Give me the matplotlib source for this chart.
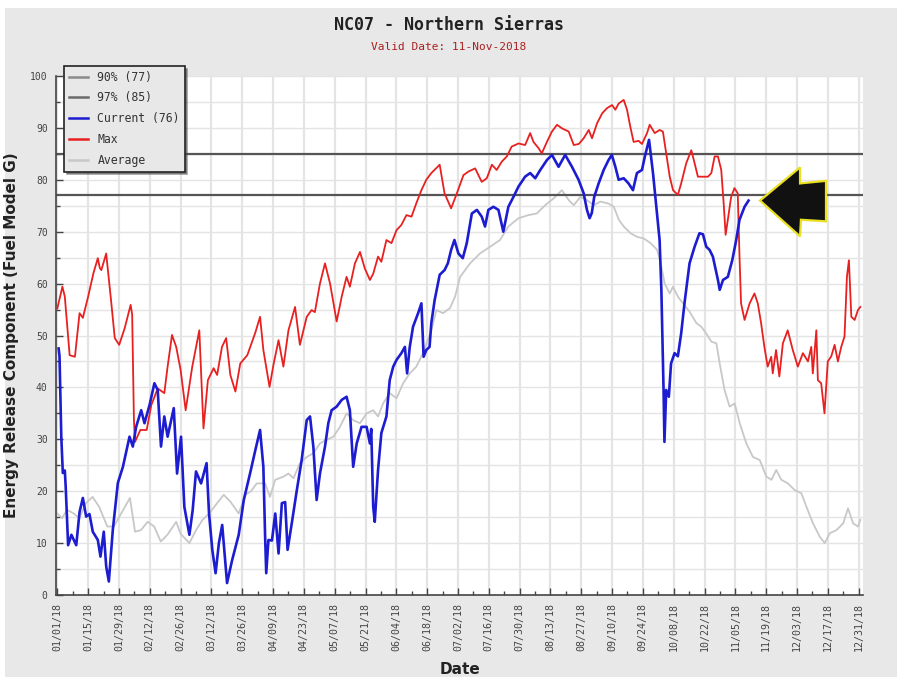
import numpy as np
import matplotlib
matplotlib.use("Agg")
import matplotlib.pyplot as plt
from matplotlib.patches import Rectangle, Polygon
from matplotlib.ticker import MultipleLocator

# day of year (0 = 01/01/18) and ERC values
cur_days = [0.6, 1.0, 1.8, 2.5, 3.4, 3.8, 4.9, 6.4, 8.6, 10.1, 11.6, 13.1, 14.6, 16.1, 18.4, 19.6,
            21.1, 22.2, 23.4, 25.2, 27.5, 29.8, 32.8, 34.3, 35.8, 38.1, 39.6, 41.9, 44.1, 45.6,
            47.1, 48.6, 50.1, 51.7, 52.9, 54.4, 56.2, 57.7, 60.0, 61.5, 63.0, 65.3, 67.8, 68.9,
            70.4, 71.9, 73.4, 74.9, 77.1, 79.4, 82.4, 84.7, 87.6, 90.0, 92.1, 93.6, 94.4, 94.9,
            95.9, 97.5, 99.0, 100.5, 102.0, 103.5, 104.6, 106.5, 108.8, 111.0, 113.3, 114.8,
            116.3, 117.8, 119.3, 121.6, 123.1, 124.6, 126.9, 129.2, 131.4, 132.9, 134.4, 136.0,
            138.2, 140.5, 142.0, 142.6, 143.5, 144.2, 145.7, 147.2, 149.5, 151.0, 152.6, 154.1,
            156.3, 157.9, 158.9, 160.1, 161.6, 163.9, 165.4, 166.4, 167.6, 169.1, 169.9, 171.4,
            173.7, 175.9, 177.4, 178.9, 180.4, 182.2, 184.2, 186.0, 188.3, 190.6, 192.8, 194.3,
            195.8, 198.1, 200.4, 202.6, 204.9, 207.2, 209.5, 212.5, 214.8, 217.1, 219.4, 222.4,
            224.7, 227.7, 230.7, 233.8, 236.8, 239.1, 240.6, 241.8, 242.8, 243.9, 245.9, 248.2,
            250.4, 251.9, 253.5, 255.0, 257.3, 259.5, 261.5, 263.3, 265.6, 266.9, 268.8, 270.6,
            272.1, 273.6, 274.4, 275.1, 275.4, 275.8, 276.6, 277.8, 278.8, 280.4, 281.9, 283.4,
            284.9, 287.2, 289.5, 291.7, 293.3, 294.8, 296.3, 297.8, 300.1, 300.9, 302.4, 304.6,
            306.6, 308.4, 309.9, 312.2, 314.0]
cur_vals = [47.5, 46, 30.5, 23.5, 24, 20.9, 9.6, 11.6, 9.6, 16, 18.7, 15.1, 15.6, 12.2, 10.6, 7.4,
            12.2, 5.5, 2.6, 12.5, 21.6, 24.7, 30.5, 28.6, 32.4, 35.6, 33.1, 36.6, 40.8, 39.5,
            28.6, 34.4, 30.5, 33.7, 36, 23.4, 30.5, 17, 11.6, 16.4, 23.8, 21.5, 25.4, 15.8,
            8.7, 4.2, 10, 13.5, 2.3, 6.7, 11.6, 18.3, 23.5, 28, 31.8, 24.7, 11.2, 4.2,
            10.6, 10.5, 15.7, 8, 17.7, 17.9, 8.7, 13.8, 20.2, 26, 33.7, 34.4,
            28.6, 18.3, 23.4, 28.6, 33.1, 35.6, 36.3, 37.6, 38.2, 35.6, 24.7, 29.2,
            32.4, 32.4, 29.2, 32, 17, 14.1, 24.1, 31.2, 34.4, 41.4, 44, 45.3,
            46.6, 47.8, 42.7, 47.8, 51.7, 54.3, 56.2, 45.9, 47.2, 47.8, 52.4, 56.8,
            61.7, 62.6, 63.9, 66.5, 68.4, 65.8, 64.9, 67.8, 73.5, 74.2, 72.9, 71,
            74.2, 74.8, 74.2, 70, 74.8, 76.7, 78.7, 80.6, 81.3, 80.3, 81.9, 83.8,
            84.8, 82.5, 84.8, 82.5, 80, 77.4, 74.2, 72.6, 73.6, 76.7, 79.3, 81.9,
            83.8, 84.8, 82.5, 80, 80.3, 79.3, 78, 81.3, 81.9, 84.5, 87.7, 81.3,
            74.8, 68.4, 58.8, 45.9, 39.5, 29.5, 39.5, 38.2, 44.6, 46.6, 46, 50.4,
            56.2, 63.9, 67.1, 69.7, 69.5, 67.1, 66.5, 65.2, 60.7, 58.8, 60.7, 61.3,
            64.5, 68.4, 72.3, 74.8, 76]

max_days = [0, 2.3, 3.4, 5.6, 8.0, 10.1, 11.6, 14.0, 16.4, 18.4, 19.3, 20.0, 22.2, 24.4, 26.1, 28.1,
            30.6, 33.3, 34.0, 34.8, 35.3, 37.7, 40.6, 42.7, 45.6, 48.6, 50.1, 52.1, 54.0, 56.0,
            58.3, 61.3, 64.5, 66.4, 68.4, 71.0, 72.6, 74.8, 76.7, 78.6, 80.9, 83.1, 86.3, 89.9,
            92.1, 93.6, 96.4, 98.3, 100.5, 102.7, 105.0, 108.0, 110.2, 113.3, 115.5, 117.0,
            119.3, 121.6, 123.9, 126.9, 129.2, 131.4, 132.9, 135.2, 137.5, 139.7, 142.0, 143.5,
            145.7, 147.2, 149.5, 151.8, 154.1, 156.3, 158.6, 160.9, 163.1, 165.4, 167.6, 169.9,
            173.7, 175.9, 178.9, 181.5, 184.5, 186.8, 189.8, 192.8, 195.1, 197.4, 199.6, 201.9,
            204.2, 206.4, 209.5, 212.5, 214.8, 216.3, 218.6, 220.1, 222.4, 224.7, 227.0, 229.3,
            232.3, 234.6, 236.9, 239.1, 241.4, 242.9, 245.2, 247.5, 249.7, 252.0, 253.5, 255.0,
            257.3, 258.8, 260.3, 261.8, 264.1, 265.6, 267.9, 269.1, 271.4, 273.6, 275.1, 276.6,
            278.2, 279.7, 281.9, 283.4, 285.7, 288.0, 289.5, 291.0, 293.3, 295.6, 297.1, 298.6,
            300.1, 301.6, 302.7, 303.6, 304.6, 306.1, 307.6, 309.1, 309.9, 310.6, 312.2, 314.5,
            316.7, 318.2, 319.7, 321.2, 322.7, 324.3, 325.0, 326.5, 328.0, 329.6, 331.8, 334.1,
            336.4, 338.7, 341.0, 342.5, 343.2, 344.8, 345.5, 347.0, 348.5, 350.0, 351.6, 353.1,
            354.6, 356.1, 357.6, 358.7, 359.6, 360.7, 362.2, 363.7, 364.8]
max_vals = [55.2, 59.4, 57.5, 46.2, 45.9, 54.3, 53.4, 57.5, 62, 64.9, 63, 62.6, 65.8, 56.8, 49.5, 48.2,
            51.4, 55.9, 54, 33.7, 29.5, 31.8, 31.8, 36.6, 39.8, 38.9, 44, 50.1, 47.8, 43.4,
            35.6, 44, 51, 32.1, 41.4, 43.7, 42.4, 47.8, 49.5, 42.4, 39.2, 44.6, 46.2, 50.5,
            53.6, 47.2, 40.1, 44.6, 49.1, 44, 51, 55.5, 48.2, 53.6, 54.9, 54.5,
            60, 63.9, 60, 52.7, 57.5, 61.3, 59.4, 63.9, 66.1, 62.9, 60.7, 61.9,
            65.2, 64.2, 68.4, 67.8, 70.3, 71.3, 73.2, 72.9, 75.5, 78, 80, 81.3,
            82.9, 77.4, 74.5, 77.4, 80.9, 81.6, 82.2, 79.6, 80.3, 82.9, 81.9, 83.5,
            84.5, 86.4, 87, 86.7, 89, 87.3, 86.1, 85.1, 87.3, 89.3, 90.6, 89.9,
            89.3, 86.7, 86.9, 88, 89.6, 88, 90.9, 92.8, 93.8, 94.4, 93.5, 94.7,
            95.4, 93.5, 90.2, 87.3, 87.5, 86.9, 89, 90.6, 89, 89.6, 89.3, 85.1,
            80.6, 78, 77.1, 79.3, 83.2, 85.7, 83.2, 80.6, 80.6, 80.6, 81.3, 84.5,
            84.5, 81.9, 75.5, 69.4, 72.3, 76.7, 78.4, 77.4, 65.2, 56.2, 53, 56.2,
            58.1, 56.2, 52.4, 47.8, 44, 45.9, 42.7, 47.2, 42.1, 48.5, 51, 47.2,
            44, 46.6, 45, 47.8, 42.7, 51, 41.4, 40.8, 35, 45, 46, 48.2,
            45, 47.8, 49.8, 61.3, 64.5, 53.6, 53, 54.9, 55.5]

avg_days = [0, 2.2, 4.4, 7.5, 10.0, 13.0, 16.0, 19.0, 22.7, 25.7, 28.6, 33.0, 35.3, 38.0, 41.0, 44.0,
            47.0, 50.0, 54.0, 56.0, 60.0, 63.0, 66.0, 69.0, 72.6, 75.6, 78.6, 82.4, 85.4, 88.0,
            90.6, 94.4, 96.6, 99.0, 102.7, 105.0, 107.3, 110.2, 113.3, 116.3, 119.3, 122.3, 125.4,
            128.4, 131.4, 134.4, 137.5, 140.5, 143.5, 145.7, 148.0, 151.0, 154.1, 157.1, 160.1,
            163.1, 166.1, 169.9, 172.2, 175.2, 178.4, 180.7, 183.0, 187.5, 192.0, 196.6, 201.1,
            204.9, 209.5, 214.0, 217.8, 221.6, 225.4, 229.2, 232.3, 234.6, 237.6, 240.6, 243.7,
            246.7, 250.5, 252.8, 255.1, 257.3, 260.4, 263.4, 266.4, 269.5, 272.5, 274.4, 275.9,
            278.2, 279.7, 281.9, 284.2, 287.2, 290.3, 292.5, 294.8, 297.1, 299.4, 300.9, 303.1,
            305.4, 307.7, 310.0, 313.0, 316.0, 319.1, 322.1, 324.4, 326.6, 328.9, 331.9, 335.0,
            338.0, 340.3, 343.3, 346.4, 348.6, 350.9, 353.9, 357.0, 359.2, 361.5, 363.8, 364.8]
avg_vals = [15.7, 14.8, 16.4, 15.7, 14.8, 17.7, 18.9, 17, 13.2, 13.2, 15.4, 18.7, 12.2, 12.5, 14.1, 13.2,
            10.3, 11.6, 14.1, 11.8, 10, 12.5, 14.5, 15.7, 17.7, 19.3, 18, 15.7, 19.3, 20,
            21.5, 21.5, 18.9, 22.2, 22.8, 23.4, 22.5, 25.4, 26.6, 27.3, 29.2, 29.9, 30.5,
            32.4, 35, 33.7, 33.1, 35, 35.6, 34.4, 36.9, 38.9, 37.9, 40.8, 42.7,
            44, 46.6, 51, 54.9, 54.3, 55.3, 57.5, 61.3, 63.9, 65.8, 67.1, 68.4,
            71, 72.6, 73.2, 73.5, 75.1, 76.4, 78, 76.1, 75.1, 76.7, 76.1, 75.1,
            75.8, 75.4, 74.8, 72.3, 71, 69.7, 69, 68.7, 67.8, 66.5, 63.3, 60,
            58.1, 59.4, 57.5, 56.2, 54.6, 52.4, 51.7, 50.4, 48.8, 48.5, 44.6, 39.5,
            36.3, 36.9, 33.1, 29.2, 26.6, 26, 22.8, 22.2, 24.1, 22.2, 21.5, 20.2,
            19.6, 17, 13.8, 11.2, 10, 11.9, 12.5, 13.8, 16.7, 13.8, 13.2, 14.5]

pct90 = 77
pct97 = 85
tick_labels = ["01/01/18", "01/15/18", "01/29/18", "02/12/18", "02/26/18", "03/12/18", "03/26/18",
               "04/09/18", "04/23/18", "05/07/18", "05/21/18", "06/04/18", "06/18/18", "07/02/18",
               "07/16/18", "07/30/18", "08/13/18", "08/27/18", "09/10/18", "09/24/18", "10/08/18",
               "10/22/18", "11/05/18", "11/19/18", "12/03/18", "12/17/18", "12/31/18"]

W, H = 897, 677
fig = plt.figure(figsize=(W / 100, H / 100), dpi=100)
fig.patch.set_facecolor("white")
# grey panel behind the chart
fig.patches.append(Rectangle((5 / W, 0), 1, 1 - 8 / H, transform=fig.transFigure,
                             facecolor="#e8e8e8", edgecolor="none", zorder=-10))

ax = fig.add_axes([56 / W, (H - 595) / H, (863 - 56) / W, (595 - 76) / H])
ax.set_facecolor("white")

ax.plot(max_days, max_vals, color="#e82020", lw=1.3, zorder=3)
ax.plot(avg_days, avg_vals, color="#c8c8c8", lw=1.3, zorder=2)
ax.plot(cur_days, cur_vals, color="#1c1cd0", lw=1.9, zorder=4)
ax.axhline(pct90, color="#555555", lw=1.6, zorder=2)
ax.axhline(pct97, color="#555555", lw=1.6, zorder=2)

# legend entries
ax.plot([], [], color="#8a8a8a", lw=1.8, label=f"90% ({pct90})")
ax.plot([], [], color="#6a6a6a", lw=1.8, label=f"97% ({pct97})")
ax.plot([], [], color="#1c1cd0", lw=1.8, label=f"Current ({round(cur_vals[-1])})")
ax.plot([], [], color="#e82020", lw=1.8, label="Max")
ax.plot([], [], color="#c8c8c8", lw=1.8, label="Average")

ax.set_xlim(-0.6, 366)
ax.set_ylim(0, 100)
ax.set_xticks(np.arange(0, 365, 14))
ax.set_xticklabels(tick_labels, rotation=90, family="DejaVu Sans Mono", fontsize=7.2, color="#444444")
ax.xaxis.set_minor_locator(MultipleLocator(7))
ax.yaxis.set_major_locator(MultipleLocator(10))
ax.yaxis.set_minor_locator(MultipleLocator(5))
for lab in ax.get_yticklabels():
    lab.set_family("DejaVu Sans Mono")
    lab.set_fontsize(7)
    lab.set_color("#444444")
ax.tick_params(which="major", direction="in", length=5, width=1, color="#444444")
ax.tick_params(which="minor", direction="in", length=3, width=1, color="#444444")
ax.tick_params(axis="x", which="major", pad=5.5)
ax.tick_params(axis="y", which="major", pad=6)
ax.grid(True, which="major", axis="x", color="#e4e4e4", lw=1.6, zorder=0)
ax.grid(True, which="both", axis="y", color="#e4e4e4", lw=1.0, zorder=0)
ax.set_axisbelow(True)
for s in ["top", "right"]:
    ax.spines[s].set_visible(False)
for s in ["left", "bottom"]:
    ax.spines[s].set_color("#444444")
    ax.spines[s].set_linewidth(1.2)

ax.set_ylabel("Energy Release Component (Fuel Model G)", fontsize=11, fontweight="bold",
              color="#222222", labelpad=8)
ax.set_xlabel("Date", fontsize=11, fontweight="bold", color="#222222", labelpad=8)

fig.text(0.5, 1 - 25 / H, "NC07 - Northern Sierras", ha="center", va="center",
         family="DejaVu Sans Mono", fontweight="bold", fontsize=12, color="#222222")
fig.text(0.5, 1 - 47 / H, "Valid Date: 11-Nov-2018", ha="center", va="center",
         family="DejaVu Sans Mono", fontsize=8, color="#aa2020")

leg = ax.legend(loc="upper left", bbox_to_anchor=(8 / 807, 1 + 10 / 519), borderaxespad=0,
                prop={"family": "DejaVu Sans Mono", "size": 8.3}, handlelength=1.7,
                labelspacing=0.68, fancybox=False, shadow=True, framealpha=1,
                borderpad=0.4, handletextpad=0.8)
leg.get_frame().set_edgecolor("#222222")
leg.get_frame().set_facecolor("#e8e8e8")
leg.get_frame().set_linewidth(1.2)
leg.set_zorder(10)
for t in leg.get_texts():
    t.set_color("#333333")

# big arrow pointing at today's value
tx, ty = cur_days[-1] + 5.2, cur_vals[-1]
shape = [(0, 0), (18.2, 6.4), (18.2, 3.3), (30.0, 3.8), (30.0, -4.0), (18.6, -3.7), (18.2, -6.9)]
arrow = Polygon([(tx + dx, ty + dy) for dx, dy in shape], closed=True, facecolor="#111111",
                edgecolor="#e8e020", lw=1.6, joinstyle="miter", zorder=6, clip_on=False)
ax.add_patch(arrow)

plt.savefig("out.png", dpi=100)
